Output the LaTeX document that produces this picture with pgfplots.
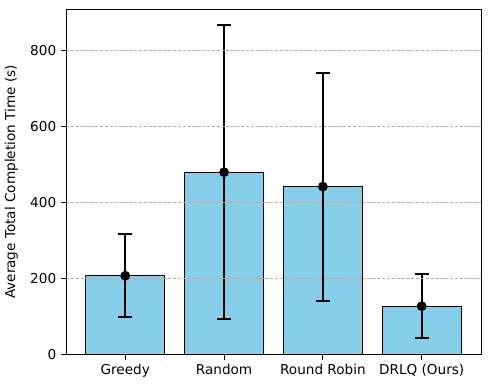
\documentclass[border=0pt]{standalone}
\usepackage{pgfplots}
\pgfplotsset{compat=1.18}
\usepackage{fontspec}
\setmainfont{DejaVu Sans}
\definecolor{skyblue}{HTML}{87CEEB}
\definecolor{gridgray}{HTML}{B0B0B0}

\begin{document}
\begin{tikzpicture}
\begin{axis}[
    scale only axis,
    width=298.8pt, height=249pt,
    xmin=-0.6, xmax=3.6,
    ymin=0, ymax=909,
    xtick={0,1,2,3},
    xticklabels={Greedy, Random, Round Robin, DRLQ (Ours)},
    ytick={0,200,400,600,800},
    tick align=outside,
    tick pos=left,
    major tick length=3.5pt,
    tick style={black, line width=0.6pt},
    ymajorgrids,
    grid style={gridgray, dash pattern=on 2.4pt off 1.1pt, line width=0.55pt},
    axis on top,
    axis line style={line width=0.6pt},
    /pgf/number format/assume math mode=true,
    ticklabel style={font=\fontsize{9.8}{12}\selectfont},
    ylabel={Average Total Completion Time (s)},
    ylabel style={font=\fontsize{9.8}{12}\selectfont, yshift=2pt},
]
  % bars
  \addplot[ybar, bar width=0.8, fill=skyblue, draw=black, line width=0.75pt]
    coordinates {(0,208) (1,480) (2,442) (3,128)};
  % means with std error bars
  \addplot[only marks, mark=*, mark size=3.3pt, black,
           error bars/.cd, y dir=both, y explicit,
           error bar style={line width=1.5pt},
           error mark options={rotate=90, mark size=5pt, line width=1.5pt}]
    coordinates {
      (0,208) +- (0,109)
      (1,480) +- (0,386)
      (2,442) +- (0,300)
      (3,128) +- (0,84)
    };
\end{axis}
\pgfresetboundingbox
\path ([xshift=-47.5pt,yshift=-24.5pt]current axis.south west)
  rectangle ([xshift=6.5pt,yshift=6.5pt]current axis.north east);
\end{tikzpicture}
\end{document}
